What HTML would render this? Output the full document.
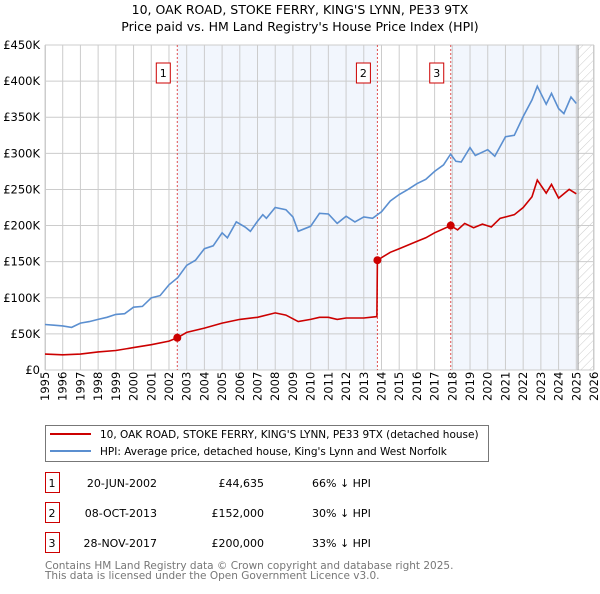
<!DOCTYPE html>
<html><head><meta charset="utf-8"><style>
body{margin:0;background:#fff;font-family:"DejaVu Sans","Liberation Sans",sans-serif;}
svg text{font-family:"DejaVu Sans","Liberation Sans",sans-serif;}
</style></head><body>
<svg id="chart" width="600" height="590" xmlns="http://www.w3.org/2000/svg">
<defs><pattern id="hatch" width="6" height="6" patternUnits="userSpaceOnUse" patternTransform="rotate(45)"><line x1="0" y1="0" x2="0" y2="6" stroke="#ccc" stroke-width="1"/></pattern></defs>
<text x="300" y="14" text-anchor="middle" font-size="12.5">10, OAK ROAD, STOKE FERRY, KING'S LYNN, PE33 9TX</text>
<text x="300" y="31" text-anchor="middle" font-size="12.5">Price paid vs. HM Land Registry's House Price Index (HPI)</text>
<g id="plot"></g>
<g>
<rect x="45.5" y="425.5" width="443" height="36" fill="#fff" stroke="#777"/>
<line x1="50" y1="434" x2="91" y2="434" stroke="#cc0000" stroke-width="2"/>
<text x="100" y="438" font-size="10.5">10, OAK ROAD, STOKE FERRY, KING'S LYNN, PE33 9TX (detached house)</text>
<line x1="50" y1="451" x2="91" y2="451" stroke="#5b8fd0" stroke-width="2"/>
<text x="100" y="455" font-size="10.5">HPI: Average price, detached house, King's Lynn and West Norfolk</text>
</g>
<g id="table" font-size="11"></g>
<text x="45" y="569" font-size="10.5" fill="#777">Contains HM Land Registry data © Crown copyright and database right 2025.</text>
<text x="45" y="579" font-size="10.5" fill="#777">This data is licensed under the Open Government Licence v3.0.</text>
</svg>
<script>
const yTicks=[0,50000,100000,150000,200000,250000,300000,350000,400000,450000];
const yTickLabels=["£0","£50K","£100K","£150K","£200K","£250K","£300K","£350K","£400K","£450K"];
const xYears=[1995,1996,1997,1998,1999,2000,2001,2002,2003,2004,2005,2006,2007,2008,2009,2010,2011,2012,2013,2014,2015,2016,2017,2018,2019,2020,2021,2022,2023,2024,2025,2026];
const hpiT=[1995,1995.5,1996,1996.5,1997,1997.5,1998,1998.5,1999,1999.5,2000,2000.5,2001,2001.5,2002,2002.5,2003,2003.5,2004,2004.5,2005,2005.3,2005.8,2006.3,2006.6,2007,2007.3,2007.5,2008,2008.6,2009,2009.3,2010,2010.5,2011,2011.5,2012,2012.5,2013,2013.5,2014,2014.5,2015,2015.5,2016,2016.5,2017,2017.5,2017.9,2018.2,2018.5,2019,2019.3,2020,2020.4,2021,2021.5,2022,2022.5,2022.8,2023.3,2023.6,2024,2024.3,2024.7,2025];
const hpiV=[63000,62000,61000,59000,65000,67000,70000,73000,77000,78000,87000,88000,100000,103000,118000,128000,145000,152000,168000,172000,190000,183000,205000,198000,192000,206000,215000,210000,225000,222000,212000,192000,199000,217000,216000,203000,213000,205000,212000,210000,219000,234000,243000,250000,258000,264000,275000,284000,299000,289000,288000,308000,297000,305000,296000,323000,325000,351000,374000,393000,368000,383000,362000,355000,378000,369000];
const ppT=[1995,1996,1997,1998,1999,2000,2001,2002,2002.47,2003,2004,2005,2006,2007,2008,2008.6,2009.3,2010,2010.5,2011,2011.5,2012,2013,2013.74,2013.77,2014.5,2015,2016,2016.5,2017,2017.9,2018.3,2018.7,2019.2,2019.7,2020.2,2020.7,2021.5,2022,2022.5,2022.8,2023.3,2023.6,2024,2024.3,2024.6,2025];
const ppV=[22000,21000,22000,25000,27000,31000,35000,40000,44635,52000,58000,65000,70000,73000,79000,76000,67000,70000,73000,73000,70000,72000,72000,74000,152000,163000,168000,178000,183000,190000,200000,194000,203000,197000,202000,198000,210000,215000,225000,240000,263000,245000,257000,238000,244000,250000,244000];
const saleT=[2002.47,2013.77,2017.91];
const saleV=[44635,152000,200000];
const saleLabels=["1","2","3"];
const saleDates=["20-JUN-2002","08-OCT-2013","28-NOV-2017"];
const salePrices=["£44,635","£152,000","£200,000"];
const saleDiffs=["66% ↓ HPI","30% ↓ HPI","33% ↓ HPI"];

const NS="http://www.w3.org/2000/svg";
const X0=45,X1=594,Y0=370,Y1=45;
const xs=t=>X0+(t-1995)/(2026-1995)*(X1-X0);
const ys=v=>Y0-v/450000*(Y0-Y1);
const plot=document.getElementById('plot');
function mk(tag,attrs,parent){const e=document.createElementNS(NS,tag);for(const k in attrs)e.setAttribute(k,attrs[k]);(parent||plot).appendChild(e);return e;}
mk('rect',{x:X0,y:Y1,width:X1-X0,height:Y0-Y1,fill:'#fff'});
let r;
r=mk('rect',{x:xs(saleT[0]),y:Y1,width:xs(saleT[1])-xs(saleT[0]),height:Y0-Y1,fill:'#f2f6fd'});


r=mk('rect',{x:xs(saleT[2]),y:Y1,width:xs(2025.1)-xs(saleT[2]),height:Y0-Y1,fill:'#f2f6fd'});


r=mk('rect',{x:xs(2025.1),y:Y1,width:X1-xs(2025.1),height:Y0-Y1,fill:'url(#hatch)'});


yTicks.forEach((v,i)=>{
  mk('line',{x1:X0,x2:X1,y1:ys(v),y2:ys(v),stroke:'#ccc','stroke-width':1});
  const t=mk('text',{x:40,y:ys(v)+4,'text-anchor':'end','font-size':11.5});
  t.textContent=yTickLabels[i];
  
  
});
xYears.forEach(y=>{
  mk('line',{x1:xs(y),x2:xs(y),y1:Y1,y2:Y0,stroke:'#ccc','stroke-width':1});
  const t=mk('text',{x:0,y:0,'font-size':11.5,transform:`translate(${xs(y)+4},${Y0+31}) rotate(-90)`});
  t.textContent=y;
  
  
});
mk('rect',{x:X0+0.5,y:Y1,width:X1-X0-1,height:Y0-Y1,fill:'none',stroke:'#ccc'});
mk('line',{x1:xs(2025.1),x2:xs(2025.1),y1:Y1,y2:Y0,stroke:'#999','stroke-width':1});
saleT.forEach((t,i)=>{
  const l=mk('line',{x1:xs(t),x2:xs(t),y1:Y1,y2:Y0,stroke:'#e05050','stroke-width':1,'stroke-dasharray':'2,2'});
  
  
  const b=mk('rect',{x:xs(t)-21,y:63,width:14,height:20,fill:'#fff',stroke:'#cc0000'});
  
  
  const tx=mk('text',{x:xs(t)-14,y:77,'text-anchor':'middle','font-size':11});
  tx.textContent=saleLabels[i];
});
const path=(T,V)=>T.map((t,i)=>(i?'L':'M')+xs(t).toFixed(1)+','+ys(V[i]).toFixed(1)).join('');
let p=mk('path',{d:path(hpiT,hpiV),fill:'none',stroke:'#5b8fd0','stroke-width':1.6});


p=mk('path',{d:path(ppT,ppV),fill:'none',stroke:'#cc0000','stroke-width':1.6});


saleT.forEach((t,i)=>{
  const c=mk('circle',{cx:xs(t),cy:ys(saleV[i]),r:4,fill:'#cc0000'});
  
  
});
const tbl=document.getElementById('table');
saleT.forEach((t,i)=>{
  const y=487+i*30;
  const b=mk('rect',{x:45.5,y:y-14.5,width:14,height:20,fill:'#fff',stroke:'#cc0000'},tbl);
  
  
  const vals=[[52,saleLabels[i],'middle'],[157,saleDates[i],'end'],[264,salePrices[i],'end'],[312,saleDiffs[i],'start']];
  vals.forEach(v=>{const tx=mk('text',{x:v[0],y:y,'text-anchor':v[2]},tbl);tx.textContent=v[1];
    
    });
});
</script>
</body></html>
